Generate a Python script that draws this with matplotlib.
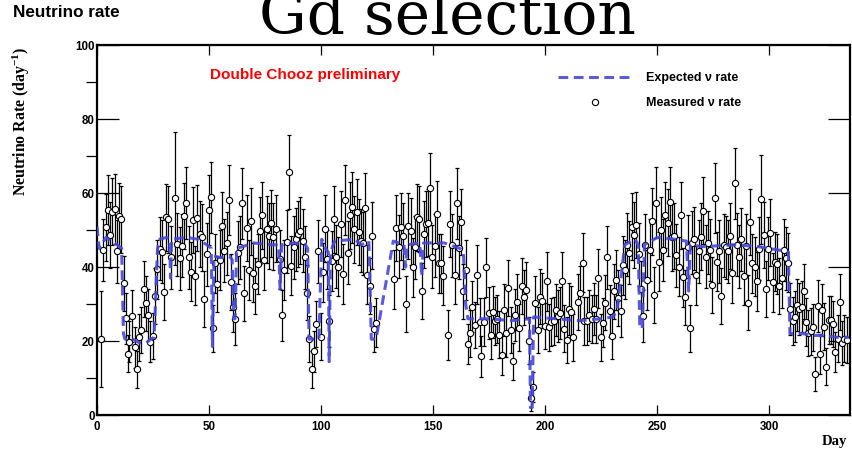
import matplotlib.pyplot as plt
import matplotlib as mpl
from matplotlib.lines import Line2D

mpl.rcParams['mathtext.fontset'] = 'custom'
mpl.rcParams['mathtext.rm'] = 'Liberation Serif:bold'
mpl.rcParams['mathtext.default'] = 'regular'

# measured daily rate (day, rate, error)
day = [1.8, 2.7, 3.9, 5.1, 5.8, 6.8, 8.0, 8.9, 9.8, 10.7,
       11.9, 12.8, 13.7, 14.4, 15.8, 16.8, 17.9, 18.8, 19.5, 20.8,
       21.7, 22.9, 23.8, 25.0, 25.7, 26.9, 28.0, 29.0, 29.8, 30.7,
       31.7, 32.9, 34.8, 35.8, 36.9, 37.9, 38.8, 39.9, 40.9, 41.8,
       42.9, 43.9, 44.8, 45.8, 46.9, 47.7, 49.0, 49.9, 50.8, 51.9,
       52.8, 53.7, 54.9, 55.8, 56.7, 57.9, 58.8, 59.8, 60.9, 61.7,
       62.8, 63.8, 64.9, 65.8, 67.0, 67.9, 68.9, 69.8, 70.7, 71.9,
       72.8, 73.8, 74.7, 75.8, 76.8, 77.8, 78.7, 79.9, 81.7, 82.7,
       83.6, 84.7, 85.6, 86.7, 87.8, 88.8, 89.7, 90.8, 91.7, 92.7,
       93.8, 94.6, 95.8, 96.7, 97.8, 98.8, 99.8, 100.9, 101.8, 102.8,
       103.7, 104.8, 105.8, 106.8, 107.7, 108.8, 109.8, 110.7, 111.8, 112.8,
       113.7, 114.7, 115.8, 116.7, 117.7, 118.8, 119.8, 120.7, 121.7, 122.8,
       123.7, 124.7, 132.7, 133.6, 134.7, 135.7, 136.7, 137.8, 138.7, 139.9,
       140.8, 141.8, 142.7, 143.8, 144.8, 145.7, 146.7, 147.6, 148.8, 149.7,
       150.6, 151.7, 152.5, 153.6, 154.6, 156.7, 157.7, 158.6, 159.7, 160.6,
       161.6, 162.6, 163.5, 164.6, 165.6, 166.5, 167.5, 168.6, 169.6, 170.7,
       171.5, 172.5, 173.7, 174.7, 175.6, 176.6, 177.7, 178.6, 179.6, 180.7,
       181.6, 182.6, 183.6, 184.7, 185.6, 186.7, 187.6, 188.5, 189.6, 190.6,
       191.6, 192.6, 193.6, 194.5, 195.5, 196.6, 197.5, 198.5, 199.7, 200.6,
       201.7, 202.7, 203.7, 204.6, 205.7, 206.7, 207.6, 208.6, 209.7, 210.7,
       211.6, 212.6, 214.6, 215.6, 216.7, 217.5, 218.6, 219.6, 220.7, 221.7,
       222.8, 223.7, 224.7, 225.8, 226.7, 227.7, 228.7, 229.6, 230.7, 231.6,
       232.6, 233.6, 234.5, 235.5, 236.7, 237.6, 238.7, 239.7, 240.6, 241.7,
       242.7, 243.6, 244.6, 245.5, 246.6, 247.6, 248.7, 249.6, 250.8, 251.6,
       252.7, 253.6, 254.6, 255.7, 256.6, 257.6, 258.5, 259.5, 260.6, 261.5,
       262.5, 263.5, 264.6, 265.5, 266.5, 267.5, 268.4, 269.5, 270.5, 271.6,
       272.5, 273.5, 274.6, 275.6, 276.5, 277.5, 278.6, 279.6, 280.5, 281.6,
       282.6, 283.5, 284.5, 285.6, 286.5, 287.5, 288.5, 289.6, 290.5, 291.5,
       292.4, 293.4, 294.5, 295.5, 296.4, 297.6, 298.5, 299.4, 300.4, 301.5,
       302.5, 303.4, 304.5, 305.5, 306.4, 307.5, 308.5, 309.4, 310.4, 311.5,
       312.4, 313.4, 314.4, 315.5, 316.4, 317.4, 318.4, 319.3, 320.5, 321.6,
       322.5, 323.5, 324.4, 325.4, 326.5, 327.4, 328.5, 329.5, 330.6, 331.6,
       332.5, 333.5, 334.6]

rate = [20.6, 44.6, 50.7, 55.4, 48.6, 55.0, 55.6, 44.2, 53.8, 52.9,
        35.6, 26.1, 16.5, 19.8, 26.8, 18.3, 12.3, 21.0, 23.0, 34.0,
        30.2, 27.0, 19.8, 21.4, 32.2, 39.4, 45.0, 44.1, 33.3, 53.4,
        52.9, 42.6, 58.6, 46.2, 42.3, 45.7, 53.8, 57.4, 42.6, 38.7,
        52.7, 37.6, 53.2, 48.9, 48.0, 31.3, 43.5, 55.4, 58.8, 23.4,
        41.0, 35.4, 41.9, 51.2, 44.4, 46.4, 58.1, 35.9, 29.3, 26.0,
        43.9, 45.3, 57.2, 32.9, 50.5, 39.2, 52.3, 38.5, 34.9, 40.8,
        49.8, 54.0, 41.9, 50.2, 48.4, 51.8, 48.2, 50.4, 42.1, 26.9,
        39.2, 46.8, 65.7, 40.3, 45.3, 47.5, 48.9, 49.8, 47.1, 42.6,
        33.1, 20.5, 12.3, 17.2, 24.6, 44.2, 21.2, 38.6, 50.4, 42.1,
        25.3, 41.6, 52.9, 42.8, 40.1, 51.6, 38.1, 58.1, 43.9, 54.0,
        56.1, 50.2, 54.9, 49.5, 47.1, 46.4, 56.0, 37.9, 34.9, 48.5,
        23.2, 25.0, 36.7, 50.5, 45.5, 50.9, 48.4, 30.0, 51.1, 49.6,
        39.9, 45.3, 53.4, 53.0, 33.5, 48.8, 51.6, 52.0, 61.4, 42.8,
        45.7, 54.2, 41.0, 41.0, 37.7, 21.6, 51.6, 45.9, 37.9, 57.2,
        45.2, 52.2, 33.4, 39.2, 19.2, 22.1, 29.3, 24.3, 37.9, 25.1,
        15.9, 25.1, 39.9, 27.6, 21.5, 27.8, 25.5, 25.9, 21.7, 16.3,
        28.4, 22.1, 34.3, 23.0, 14.5, 27.1, 30.5, 23.6, 34.9, 31.8,
        33.8, 20.1, 4.6, 7.5, 30.2, 23.0, 32.0, 30.9, 24.1, 36.1,
        23.7, 25.1, 25.3, 28.4, 26.8, 27.5, 36.1, 23.3, 20.3, 28.7,
        27.8, 21.0, 30.5, 32.9, 41.2, 25.3, 25.3, 26.9, 25.9, 28.6,
        26.0, 37.0, 21.0, 25.0, 30.4, 42.6, 28.2, 21.4, 33.4, 36.5,
        31.6, 28.2, 40.5, 39.3, 46.0, 43.9, 50.9, 48.6, 51.3, 43.5,
        34.0, 26.8, 45.9, 36.5, 44.6, 52.3, 32.4, 57.4, 41.4, 50.0,
        44.6, 54.1, 52.0, 57.6, 48.0, 48.4, 43.2, 40.1, 54.0, 37.2,
        31.8, 45.5, 23.4, 46.6, 47.7, 37.8, 44.2, 48.2, 55.2, 42.8,
        46.6, 44.6, 35.2, 58.6, 41.4, 44.2, 32.2, 45.9, 45.3, 44.2,
        48.4, 38.3, 62.6, 46.0, 42.8, 47.5, 37.6, 45.7, 30.4, 52.2,
        41.0, 40.1, 36.1, 45.0, 58.3, 48.6, 34.0, 45.0, 49.3, 35.9,
        41.4, 40.8, 34.9, 37.0, 44.6, 42.3, 41.2, 28.6, 25.3, 26.6,
        29.8, 28.7, 29.3, 33.4, 25.1, 22.2, 22.6, 23.7, 11.1, 29.5,
        16.5, 28.4, 23.9, 13.1, 25.7, 25.7, 24.6, 17.0, 20.6, 30.5,
        19.4, 20.6, 20.3]

err = [13, 8.5, 9, 9.5, 9, 9, 9.5, 8.5, 9, 9,
       7.5, 7, 5, 5.5, 7, 5.5, 5, 6.3, 6.3, 7.5,
       7.5, 7, 5.5, 6.3, 7.5, 8, 8.5, 8.5, 7.5, 9,
       9, 8.5, 18, 8.5, 8.5, 8.5, 9, 9.7, 8.5, 8,
       9, 8, 9, 9, 9, 7.5, 8.5, 9.5, 9.5, 6.3,
       8, 7.5, 8, 9, 8.5, 8.5, 9.5, 7.5, 7, 7,
       8.5, 8.5, 9.5, 7.5, 9, 8, 9, 8, 7.5, 8,
       9, 9, 8, 9, 9, 9, 9, 9, 8, 7,
       8, 8.5, 10, 8, 8.5, 8.5, 9, 9, 8.5, 8.5,
       7.5, 6.3, 5, 5.5, 6.3, 8.5, 6.3, 8, 9, 8,
       7, 8, 9, 8.5, 8, 9, 8, 9.5, 8.5, 9,
       9.5, 9, 9, 9, 8.5, 8.5, 9.5, 8, 7.5, 9,
       6.3, 6.5, 8, 9, 8.5, 9, 9, 7.5, 9, 9,
       8, 8.5, 9, 9, 7.5, 9, 9, 9, 9.5, 8.5,
       8.5, 9, 8, 8, 8, 6.7, 9, 8.5, 8, 9.5,
       8.5, 9, 7.5, 8, 5.5, 6.3, 7, 6.3, 8, 6.5,
       5.5, 6.5, 8, 7, 6.3, 7, 6.5, 6.5, 6.3, 5.5,
       7, 6.3, 7.5, 6.3, 5, 7, 7.5, 6.3, 7.5, 7.5,
       7.5, 6.3, 3.5, 4, 7.5, 6.3, 7.5, 7.5, 6.3, 8,
       6.3, 6.5, 6.5, 7, 7, 7, 8, 6.3, 6.3, 7,
       7, 6.3, 7.5, 7.5, 8, 6.5, 6.5, 7, 6.5, 7,
       6.5, 8, 6.3, 6.5, 7.5, 8.5, 7, 6.3, 7.5, 8,
       7.5, 7, 8, 8, 8.5, 8.5, 9, 9, 9, 8.5,
       7.5, 7, 8.5, 8, 8.5, 9, 7.5, 9.5, 8, 9,
       8.5, 9, 9, 9.5, 9, 9, 8.5, 8, 9, 8,
       7.5, 8.5, 6.3, 8.5, 8.5, 8, 8.5, 9, 9, 8.5,
       8.5, 8.5, 7.5, 9.5, 8, 8.5, 7.5, 8.5, 8.5, 8.5,
       9, 8, 9.5, 8.5, 8.5, 8.5, 8, 8.5, 7.5, 9,
       8, 8, 8, 8.5, 12, 9, 7.5, 8.5, 9, 8,
       8, 8, 7.5, 8, 8.5, 8.5, 8, 7, 6.5, 7,
       7, 7, 7, 7.5, 6.5, 6.3, 6.3, 6.3, 4.5, 7,
       5.5, 7, 6.3, 5, 6.5, 6.5, 6.3, 5.5, 6.3, 7.5,
       6, 6.3, 6.3]

# expected rate from reactor power
exp_day = [0, 1, 2, 4, 6, 9, 11, 11.8, 12.5, 16, 19, 22, 24, 25.5, 27, 28,
           31, 32.4, 32.8, 33.3, 40, 45, 49, 51, 51.5, 52.2, 55, 59, 60.3, 61,
           61.6, 62.3, 70, 78, 81, 81.7, 82.4, 88, 93, 94, 94.6, 99, 100.3, 102,
           103.2, 103.6, 104.2, 106, 115, 118, 121.3, 122.4, 124.5, 132.2, 137,
           137.7, 138.4, 144, 144.9, 145.7, 155, 162, 163.5, 164.5, 165.5, 175,
           185, 193, 193.4, 194.2, 194.8, 205, 215, 225, 230, 232, 234, 235.5,
           240, 241.5, 242.2, 243.3, 244.3, 250, 258, 263, 264, 264.8, 270, 285,
           295, 305, 308.5, 309.2, 315, 320, 325, 330, 335.5]
exp_rate = [51, 45, 46, 48, 47, 46, 45, 22, 20.5, 20.5, 19.5, 19.5, 20.5, 21, 45, 47.5,
            48, 47.5, 37, 47.5, 48, 47.5, 46, 45, 18.5, 43, 42.5, 43, 42, 26,
            26, 45, 46.5, 46, 46, 34, 46, 46.5, 46, 45, 20.5, 20.5, 47.5, 45,
            44, 14.4, 44, 47, 47.5, 46, 47, 20.5, 20.5, 47, 46,
            40, 46, 46.5, 37.5, 46.5, 46.5, 45, 44, 30, 26, 26,
            25.5, 26, 2, 2, 26.5, 26, 25.5, 26, 26.5, 28, 38, 46,
            47.5, 46, 23.5, 23.5, 46, 48, 47.5, 47, 33.5, 46, 45.5, 46,
            45.5, 44.5, 44, 22, 22, 21.5, 21.5, 21, 21]

blue = '#4848dc'

fig = plt.figure(figsize=(8.52, 4.54), dpi=100)
ax = fig.add_axes([97 / 852, 39 / 454, 753 / 852, 370 / 454])

ax.errorbar(day, rate, yerr=err, fmt='none', ecolor='black', elinewidth=0.9,
            capsize=1.5, capthick=0.9, zorder=2)
ax.plot(day, rate, 'o', ms=4.5, mfc='white', mec='black', mew=0.8, zorder=3)
ax.plot(exp_day, exp_rate, color=blue, lw=2.2, dashes=(3.2, 1.8), alpha=0.9, zorder=4)

ax.set_xlim(0, 336)
ax.set_ylim(0, 100)
ax.set_xticks(range(0, 301, 50))
ax.set_yticks(range(0, 101, 20))
ax.set_yticks(range(0, 101, 10), minor=True)
ax.tick_params(direction='in', top=True, right=True, width=0.9)
ax.tick_params(axis='x', length=7, pad=4.5)
ax.tick_params(axis='y', which='major', length=15.8, pad=1.5)
ax.tick_params(axis='y', which='minor', length=7.9, width=0.9)
for lab in ax.get_xticklabels() + ax.get_yticklabels():
    lab.set_fontfamily('Liberation Sans')
    lab.set_fontweight('bold')
    lab.set_fontsize(8.3)
for s in ax.spines.values():
    s.set_linewidth(1.6)

fig.text(447 / 852, (454 - 34) / 454, 'Gd selection', ha='center', va='baseline',
         family='DejaVu Serif', fontsize=43)
fig.text(13 / 852, (454 - 12.5) / 454, 'Neutrino rate', ha='left', va='center',
         family='Liberation Sans', weight='bold', fontsize=12.3)
fig.text(210 / 852, (454 - 75) / 454, 'Double Chooz preliminary', ha='left', va='center',
         family='Liberation Sans', weight='bold', fontsize=11, color='red')
fig.text(21 / 852, (454 - 46) / 454, 'Neutrino Rate (day$^{-1}$)', rotation=90,
         ha='center', va='top', family='Liberation Serif', weight='bold', fontsize=11.4)
fig.text(847 / 852, (454 - 442) / 454, 'Day', ha='right', va='center',
         family='Liberation Serif', weight='bold', fontsize=10.5)

h1 = Line2D([], [], color=blue, lw=2.2, dashes=(3.2, 1.8), alpha=0.9)
h2 = Line2D([], [], marker='o', ls='none', ms=4.5, mfc='white', mec='black', mew=0.8)
fig.legend([h1, h2], ['Expected \u03bd rate', 'Measured \u03bd rate'], loc='upper left',
           bbox_to_anchor=(558 / 852, 0.841), frameon=False,
           prop={'family': 'Liberation Sans', 'weight': 'bold', 'size': 9},
           handlelength=5.9, handletextpad=1.1, labelspacing=1.05,
           borderpad=0, borderaxespad=0)

fig.savefig('out.png', dpi=100)
